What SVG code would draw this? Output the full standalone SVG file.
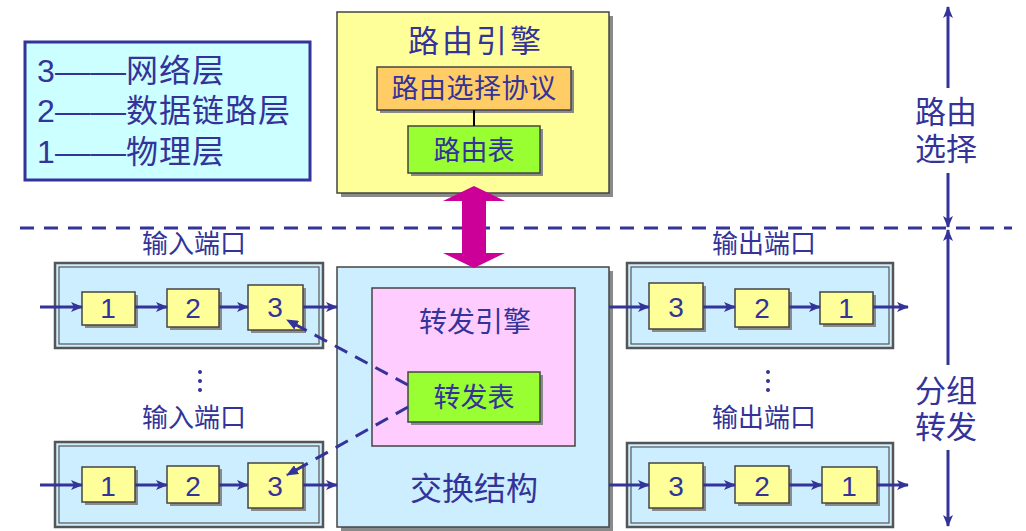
<svg xmlns="http://www.w3.org/2000/svg" width="1026" height="531" viewBox="0 0 1026 531">
<style>
text{font-family:"Liberation Sans","Noto Sans CJK SC",sans-serif;fill:#333399;text-anchor:middle}
.cj{font-family:"Noto Sans CJK SC","Liberation Sans",sans-serif}
.sh{fill:#8a8a8a}
.bx{stroke:#444;stroke-width:1.5}
.y{fill:#ffff99}
.g{fill:#99ff33}
.lb{fill:#cceeff}
.n{font-size:28px}
.fl{stroke:#333399;stroke-width:3;fill:none}
.lg{text-anchor:start;font-size:32px}
</style>
<defs>
<marker id="ah" viewBox="0 0 12 10" refX="11" refY="5" markerWidth="12" markerHeight="10" markerUnits="userSpaceOnUse" orient="auto">
<path d="M0,0 L12,5 L0,10 L3,5 Z" fill="#333399"/>
</marker>
<marker id="ahd" viewBox="0 0 12 10" refX="11" refY="5" markerWidth="12" markerHeight="10" markerUnits="userSpaceOnUse" orient="auto">
<path d="M0,0 L12,5 L0,10 Z" fill="#333399"/>
</marker>
</defs>
<rect width="1026" height="531" fill="#ffffff"/>

<g id="legend">
<rect x="25" y="42" width="285" height="138" fill="#ccffff" stroke="#333399" stroke-width="3"/>
<text class="lg" x="37" y="82">3<tspan x="55" textLength="71" lengthAdjust="spacingAndGlyphs">——</tspan><tspan x="126" style="letter-spacing:1px">网络层</tspan></text>
<text class="lg" x="37" y="122">2<tspan x="55" textLength="71" lengthAdjust="spacingAndGlyphs">——</tspan><tspan x="126" style="letter-spacing:1px">数据链路层</tspan></text>
<text class="lg" x="37" y="163">1<tspan x="55" textLength="71" lengthAdjust="spacingAndGlyphs">——</tspan><tspan x="126" style="letter-spacing:1px">物理层</tspan></text>
</g>

<g id="routing-engine">
<rect class="sh" x="341" y="16" width="272" height="181"/>
<rect class="bx y" x="337" y="12" width="272" height="181"/>
<text class="cj" x="476" y="52" style="font-size:31px;letter-spacing:3px">路由引擎</text>
</g>
<g id="routing-protocol">
<rect class="sh" x="380" y="70" width="194" height="43"/>
<rect class="bx" x="377" y="67" width="194" height="43" fill="#ffcc66"/>
<text class="cj" x="474" y="98" style="font-size:27px;letter-spacing:0.5px">路由选择协议</text>
</g>
<g id="routing-table">
<rect class="sh" x="411" y="129" width="132" height="47"/>
<rect class="bx g" x="408" y="126" width="132" height="47"/>
<text class="cj" x="474" y="160" style="font-size:27px">路由表</text>
</g>

<g id="switch-fabric">
<rect class="sh" x="341" y="271" width="272" height="260"/>
<rect class="bx lb" x="337" y="267" width="272" height="260"/>
<text class="cj" x="474" y="500" style="font-size:32px">交换结构</text>
</g>
<g id="forwarding-engine">
<rect class="bx" x="372" y="288" width="203" height="158" fill="#ffccff"/>
<text class="cj" x="475" y="332" style="font-size:28px">转发引擎</text>
</g>
<g id="forwarding-table">
<rect class="sh" x="411" y="375" width="132" height="50"/>
<rect class="bx g" x="408" y="372" width="132" height="50"/>
<text class="cj" x="474" y="407" style="font-size:27px">转发表</text>
</g>

<g id="input-port-1">
<text class="cj" x="194" y="253" style="font-size:26px">输入端口</text>
<rect x="55" y="263" width="268" height="85" fill="#cceeff" stroke="#555" stroke-width="2.5"/>
<rect x="59" y="267" width="260" height="77" fill="none" stroke="#555" stroke-width="1.2"/>
<rect class="sh" x="85" y="295" width="53" height="33"/><rect class="bx y" x="82" y="292" width="53" height="33"/><text class="n" x="108" y="318">1</text>
<rect class="sh" x="170" y="292" width="52" height="38"/><rect class="bx y" x="167" y="289" width="52" height="38"/><text class="n" x="193" y="318">2</text>
<rect class="sh" x="251" y="288" width="55" height="45"/><rect class="bx y" x="248" y="285" width="55" height="45"/><text class="n" x="275" y="317">3</text>
</g>
<g id="input-port-2">
<text class="cj" x="194" y="427" style="font-size:26px">输入端口</text>
<rect x="55" y="442" width="268" height="85" fill="#cceeff" stroke="#555" stroke-width="2.5"/>
<rect x="59" y="446" width="260" height="77" fill="none" stroke="#555" stroke-width="1.2"/>
<rect class="sh" x="85" y="470" width="53" height="35"/><rect class="bx y" x="82" y="467" width="53" height="35"/><text class="n" x="108" y="496">1</text>
<rect class="sh" x="170" y="469" width="52" height="37"/><rect class="bx y" x="167" y="466" width="52" height="37"/><text class="n" x="193" y="496">2</text>
<rect class="sh" x="251" y="466" width="55" height="45"/><rect class="bx y" x="248" y="463" width="55" height="45"/><text class="n" x="275" y="496">3</text>
</g>
<g id="output-port-1">
<text class="cj" x="764" y="253" style="font-size:26px">输出端口</text>
<rect x="627" y="263" width="266" height="85" fill="#cceeff" stroke="#555" stroke-width="2.5"/>
<rect x="631" y="267" width="258" height="77" fill="none" stroke="#555" stroke-width="1.2"/>
<rect class="sh" x="652" y="286" width="54" height="46"/><rect class="bx y" x="649" y="283" width="54" height="46"/><text class="n" x="676" y="317">3</text>
<rect class="sh" x="738" y="292" width="54" height="38"/><rect class="bx y" x="735" y="289" width="54" height="38"/><text class="n" x="762" y="318">2</text>
<rect class="sh" x="823" y="295" width="53" height="32"/><rect class="bx y" x="820" y="292" width="53" height="32"/><text class="n" x="846" y="318">1</text>
</g>
<g id="output-port-2">
<text class="cj" x="764" y="427" style="font-size:26px">输出端口</text>
<rect x="627" y="443" width="266" height="84" fill="#cceeff" stroke="#555" stroke-width="2.5"/>
<rect x="631" y="447" width="258" height="76" fill="none" stroke="#555" stroke-width="1.2"/>
<rect class="sh" x="652" y="466" width="54" height="45"/><rect class="bx y" x="649" y="463" width="54" height="45"/><text class="n" x="676" y="496">3</text>
<rect class="sh" x="738" y="469" width="54" height="37"/><rect class="bx y" x="735" y="466" width="54" height="37"/><text class="n" x="762" y="496">2</text>
<rect class="sh" x="825" y="470" width="55" height="36"/><rect class="bx y" x="822" y="467" width="55" height="36"/><text class="n" x="849" y="496">1</text>
</g>

<g id="dots">
<circle cx="200" cy="372" r="2" fill="#333399"/><circle cx="200" cy="381" r="2" fill="#333399"/><circle cx="200" cy="390" r="2" fill="#333399"/>
<circle cx="768" cy="372" r="2" fill="#333399"/><circle cx="768" cy="381" r="2" fill="#333399"/><circle cx="768" cy="390" r="2" fill="#333399"/>
</g>

<g id="side-labels">
<text class="cj" x="946" y="123" style="font-size:31px">路由<tspan x="946" y="160">选择</tspan></text>
<text class="cj" x="946" y="402" style="font-size:31px">分组<tspan x="946" y="438">转发</tspan></text>
</g>

<g id="connectors">
<line x1="20" y1="228" x2="1012" y2="228" stroke="#333399" stroke-width="3" stroke-dasharray="14,10"/>
<line x1="474" y1="110" x2="474" y2="126" stroke="#000" stroke-width="2"/>
<path d="M474,186 L505,201 L486,201 L486,253 L505,253 L474,268 L443,253 L462,253 L462,201 L443,201 Z" fill="#cc0099"/>
<g class="fl">
<line x1="40" y1="307" x2="82" y2="307" marker-end="url(#ah)"/>
<line x1="135" y1="307" x2="167" y2="307" marker-end="url(#ah)"/>
<line x1="219" y1="307" x2="248" y2="307" marker-end="url(#ah)"/>
<line x1="303" y1="307" x2="337" y2="307" marker-end="url(#ah)"/>
<line x1="40" y1="485" x2="82" y2="485" marker-end="url(#ah)"/>
<line x1="135" y1="485" x2="167" y2="485" marker-end="url(#ah)"/>
<line x1="219" y1="485" x2="248" y2="485" marker-end="url(#ah)"/>
<line x1="303" y1="485" x2="337" y2="485" marker-end="url(#ah)"/>
<line x1="609" y1="307" x2="649" y2="307" marker-end="url(#ah)"/>
<line x1="703" y1="307" x2="735" y2="307" marker-end="url(#ah)"/>
<line x1="789" y1="307" x2="820" y2="307" marker-end="url(#ah)"/>
<line x1="873" y1="307" x2="908" y2="307" marker-end="url(#ah)"/>
<line x1="609" y1="485" x2="649" y2="485" marker-end="url(#ah)"/>
<line x1="703" y1="485" x2="735" y2="485" marker-end="url(#ah)"/>
<line x1="789" y1="485" x2="822" y2="485" marker-end="url(#ah)"/>
<line x1="877" y1="485" x2="908" y2="485" marker-end="url(#ah)"/>
<line x1="408" y1="385" x2="287" y2="320" stroke-dasharray="14,9" marker-end="url(#ahd)"/>
<line x1="408" y1="407" x2="287" y2="475" stroke-dasharray="14,9" marker-end="url(#ahd)"/>
<line x1="948" y1="88" x2="948" y2="7" marker-end="url(#ah)"/>
<line x1="948" y1="173" x2="948" y2="227" marker-end="url(#ah)"/>
<line x1="948" y1="365" x2="948" y2="230" marker-end="url(#ah)"/>
<line x1="948" y1="450" x2="948" y2="526" marker-end="url(#ah)"/>
</g>
</g>
</svg>
